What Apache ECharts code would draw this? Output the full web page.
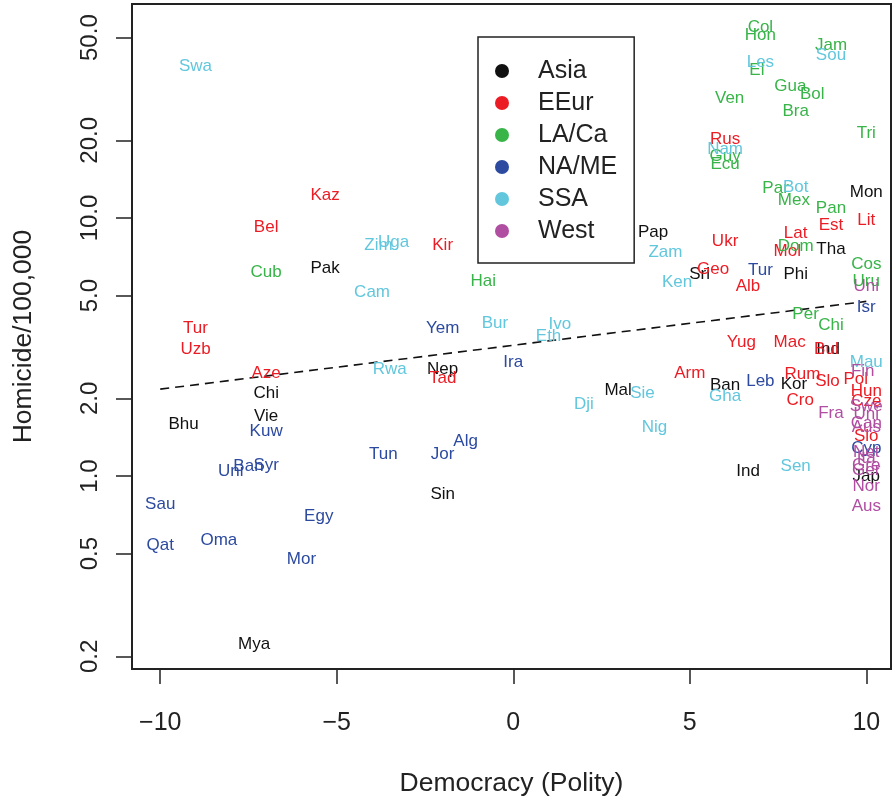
<!DOCTYPE html>
<html>
<head>
<meta charset="utf-8">
<title>Homicide vs Democracy</title>
<script src="https://cdn.jsdelivr.net/npm/echarts@6/dist/echarts.min.js"></script>
<style>
  html, body { margin: 0; padding: 0; background: #ffffff; }
  #chart { width: 894px; height: 797px; }
</style>
</head>
<body>
<div id="chart"></div>
<script>
// Region names, in legend order
const regions = ['Asia', 'EEur', 'LA/Ca', 'NA/ME', 'SSA', 'West'];

// Asia
const asiaNames = ['Pak', 'Nep', 'Chi', 'Vie', 'Bhu', 'Mya', 'Sin', 'Pap', 'Mal', 'Sri', 'Mon', 'Tha', 'Phi', 'Ind', 'Ban', 'Kor', 'Ind', 'Jap'];
const asiaPolity = [-5.33, -2.0, -7.0, -7.0, -9.34, -7.34, -2.0, 3.96, 2.97, 5.28, 10.0, 9.0, 8.0, 8.92, 6.0, 7.95, 6.65, 10.0];
const asiaHomicide = [6.38, 2.59, 2.09, 1.71, 1.59, 0.223, 0.85, 8.8, 2.15, 6.05, 12.6, 7.59, 6.06, 3.11, 2.25, 2.27, 1.04, 1.0];

// Eastern Europe
const eeurNames = ['Kaz', 'Bel', 'Kir', 'Tur', 'Uzb', 'Aze', 'Tad', 'Arm', 'Rus', 'Ukr', 'Geo', 'Alb', 'Lat', 'Mol', 'Est', 'Lit', 'Yug', 'Mac', 'Bul', 'Rum', 'Slo', 'Pol', 'Cro', 'Hun', 'Cze', 'Slo'];
const eeurPolity = [-5.33, -7.0, -2.0, -9.0, -9.0, -7.0, -2.0, 5.0, 6.0, 6.0, 5.66, 6.65, 8.0, 7.76, 9.0, 10.0, 6.46, 7.83, 8.87, 8.19, 8.9, 9.7, 8.13, 10.0, 10.0, 10.0];
const eeurHomicide = [12.2, 9.17, 7.86, 3.74, 3.11, 2.49, 2.39, 2.49, 20.2, 8.09, 6.33, 5.42, 8.73, 7.45, 9.4, 9.82, 3.31, 3.31, 3.11, 2.48, 2.32, 2.37, 1.97, 2.12, 1.95, 1.43];

// Latin America / Caribbean
const laNames = ['Cub', 'Hai', 'Col', 'Hon', 'El', 'Jam', 'Gua', 'Bol', 'Ven', 'Bra', 'Tri', 'Guy', 'Ecu', 'Par', 'Mex', 'Pan', 'Dom', 'Cos', 'Uru', 'Per', 'Chi'];
const laPolity = [-7.0, -0.85, 7.0, 7.0, 6.9, 9.0, 7.85, 8.47, 6.13, 8.0, 10.0, 6.0, 6.0, 7.43, 7.95, 9.0, 8.0, 10.0, 10.0, 8.28, 9.0];
const laHomicide = [6.16, 5.66, 54.8, 51.2, 37.2, 46.5, 32.5, 30.2, 29.1, 26.0, 21.2, 17.3, 16.2, 13.0, 11.7, 10.9, 7.74, 6.61, 5.66, 4.25, 3.85];

// North Africa / Middle East
const nameNames = ['Yem', 'Ira', 'Kuw', 'Ban', 'Syr', 'Uni', 'Sau', 'Qat', 'Oma', 'Egy', 'Mor', 'Tun', 'Jor', 'Alg', 'Tur', 'Leb', 'Isr', 'Cyp'];
const namePolity = [-2.0, 0.0, -7.0, -7.5, -7.0, -8.0, -10.0, -10.0, -8.34, -5.51, -6.0, -3.68, -2.0, -1.35, 7.0, 7.0, 10.0, 10.0];
const nameHomicide = [3.74, 2.77, 1.49, 1.09, 1.1, 1.04, 0.777, 0.54, 0.565, 0.7, 0.475, 1.21, 1.21, 1.36, 6.25, 2.33, 4.51, 1.28];

// Sub-Saharan Africa
const ssaNames = ['Swa', 'Zim', 'Uga', 'Cam', 'Bur', 'Rwa', 'Zam', 'Ken', 'Ivo', 'Eth', 'Sie', 'Dji', 'Nig', 'Les', 'Sou', 'Nam', 'Bot', 'Gha', 'Sen', 'Mau'];
const ssaPolity = [-9.0, -3.82, -3.39, -4.0, -0.52, -3.5, 4.31, 4.64, 1.32, 1.0, 3.66, 2.0, 4.0, 7.0, 9.0, 6.0, 8.0, 6.0, 8.0, 10.0];
const ssaHomicide = [38.8, 7.86, 8.05, 5.15, 3.91, 2.59, 7.36, 5.63, 3.88, 3.47, 2.1, 1.9, 1.54, 40.0, 42.8, 18.4, 13.2, 2.04, 1.09, 2.76];

// West
const westNames = ['Uni', 'Fin', 'Fra', 'Swe', 'Uni', 'Can', 'Aus', 'Net', 'Ita', 'Gre', 'Ger', 'Nor', 'Aus'];
const westPolity = [10.0, 9.9, 9.0, 10.0, 10.0, 10.0, 10.0, 10.0, 10.0, 10.0, 10.0, 10.0, 10.0];
const westHomicide = [5.42, 2.54, 1.75, 1.86, 1.73, 1.6, 1.55, 1.23, 1.17, 1.1, 1.05, 0.91, 0.76];

// Fitted trend (log scale), end points
const trendPolity = [-10, 10];
const trendHomicide = [2.17, 4.75];

// Axis ticks
const xTicks = [-10, -5, 0, 5, 10];
const yTicks = [0.2, 0.5, 1, 2, 5, 10, 20, 50];

const regionColors = ['#111111', '#ec1c24', '#38b449', '#2c4a9f', '#62c7dd', '#b04ea1'];
const groups = [
  [asiaNames, asiaPolity, asiaHomicide],
  [eeurNames, eeurPolity, eeurHomicide],
  [laNames, laPolity, laHomicide],
  [nameNames, namePolity, nameHomicide],
  [ssaNames, ssaPolity, ssaHomicide],
  [westNames, westPolity, westHomicide]
];

const FONT = "'Liberation Sans', Arial, Helvetica, sans-serif";
const INK = '#222222';

const series = groups.map(function (g, i) {
  const names = g[0], xs = g[1], ys = g[2];
  return {
    name: regions[i],
    type: 'scatter',
    symbol: 'circle',
    symbolSize: 0,
    itemStyle: { color: regionColors[i], opacity: 1 },
    label: {
      show: true,
      position: 'inside',
      formatter: function (p) { return p.data.name; },
      color: regionColors[i],
      opacity: 1,
      fontFamily: FONT,
      fontSize: 17
    },
    emphasis: { disabled: true },
    data: names.map(function (n, k) { return { name: n, value: [xs[k], ys[k]] }; }),
    z: 3
  };
});

series.push({
  name: 'trend',
  type: 'line',
  symbol: 'none',
  silent: true,
  lineStyle: { color: '#111111', width: 1.6, type: [9, 6] },
  data: trendPolity.map(function (x, k) { return [x, trendHomicide[k]]; }),
  z: 2
});

const chart = echarts.init(document.getElementById('chart'), null, { renderer: 'canvas' });
chart.setOption({
  animation: false,
  backgroundColor: '#ffffff',
  grid: {
    left: 132, right: 3, top: 4, bottom: 128,
    outerBoundsMode: 'none',
    containLabel: false,
    show: true, borderColor: INK, borderWidth: 2, backgroundColor: 'transparent'
  },
  legend: {
    data: regions.map(function (r, i) { return { name: r, itemStyle: { color: regionColors[i], opacity: 1 } }; }),
    orient: 'vertical',
    left: 478,
    top: 37,
    icon: 'circle',
    itemWidth: 14,
    itemHeight: 14,
    itemGap: 6,
    padding: [21, 17, 19, 17],
    borderColor: INK,
    borderWidth: 1.5,
    backgroundColor: '#ffffff',
    selectedMode: false,
    textStyle: { fontSize: 25, lineHeight: 26, color: INK, fontFamily: FONT, padding: [0, 0, 0, 24] }
  },
  xAxis: {
    type: 'value',
    min: -10.8,
    max: 10.7,
    name: 'Democracy (Polity)',
    nameLocation: 'middle',
    nameGap: 101,
    nameTextStyle: { fontSize: 26.5, color: INK, fontFamily: FONT },
    splitLine: { show: false },
    axisLine: { show: false, onZero: false },
    axisTick: { show: true, length: 15, customValues: xTicks, lineStyle: { color: INK, width: 1.5 } },
    axisLabel: {
      customValues: xTicks,
      margin: 42,
      fontSize: 25,
      color: INK,
      fontFamily: FONT,
      formatter: function (v) { return v < 0 ? '\u2212' + Math.abs(v) : String(v); }
    }
  },
  yAxis: {
    type: 'log',
    logBase: 10,
    min: 0.1786,
    max: 67.5,
    name: 'Homicide/100,000',
    nameLocation: 'middle',
    nameGap: 95,
    nameTextStyle: { fontSize: 26.5, color: INK, fontFamily: FONT },
    splitLine: { show: false },
    minorTick: { show: false },
    axisLine: { show: false, onZero: false },
    axisTick: { show: true, length: 16, customValues: yTicks, lineStyle: { color: INK, width: 1.5 } },
    axisLabel: {
      customValues: yTicks,
      rotate: 90,
      margin: 30,
      fontSize: 24,
      color: INK,
      fontFamily: FONT,
      formatter: function (v) { return Number(v).toFixed(1); }
    }
  },
  series: series
});
</script>
</body>
</html>
